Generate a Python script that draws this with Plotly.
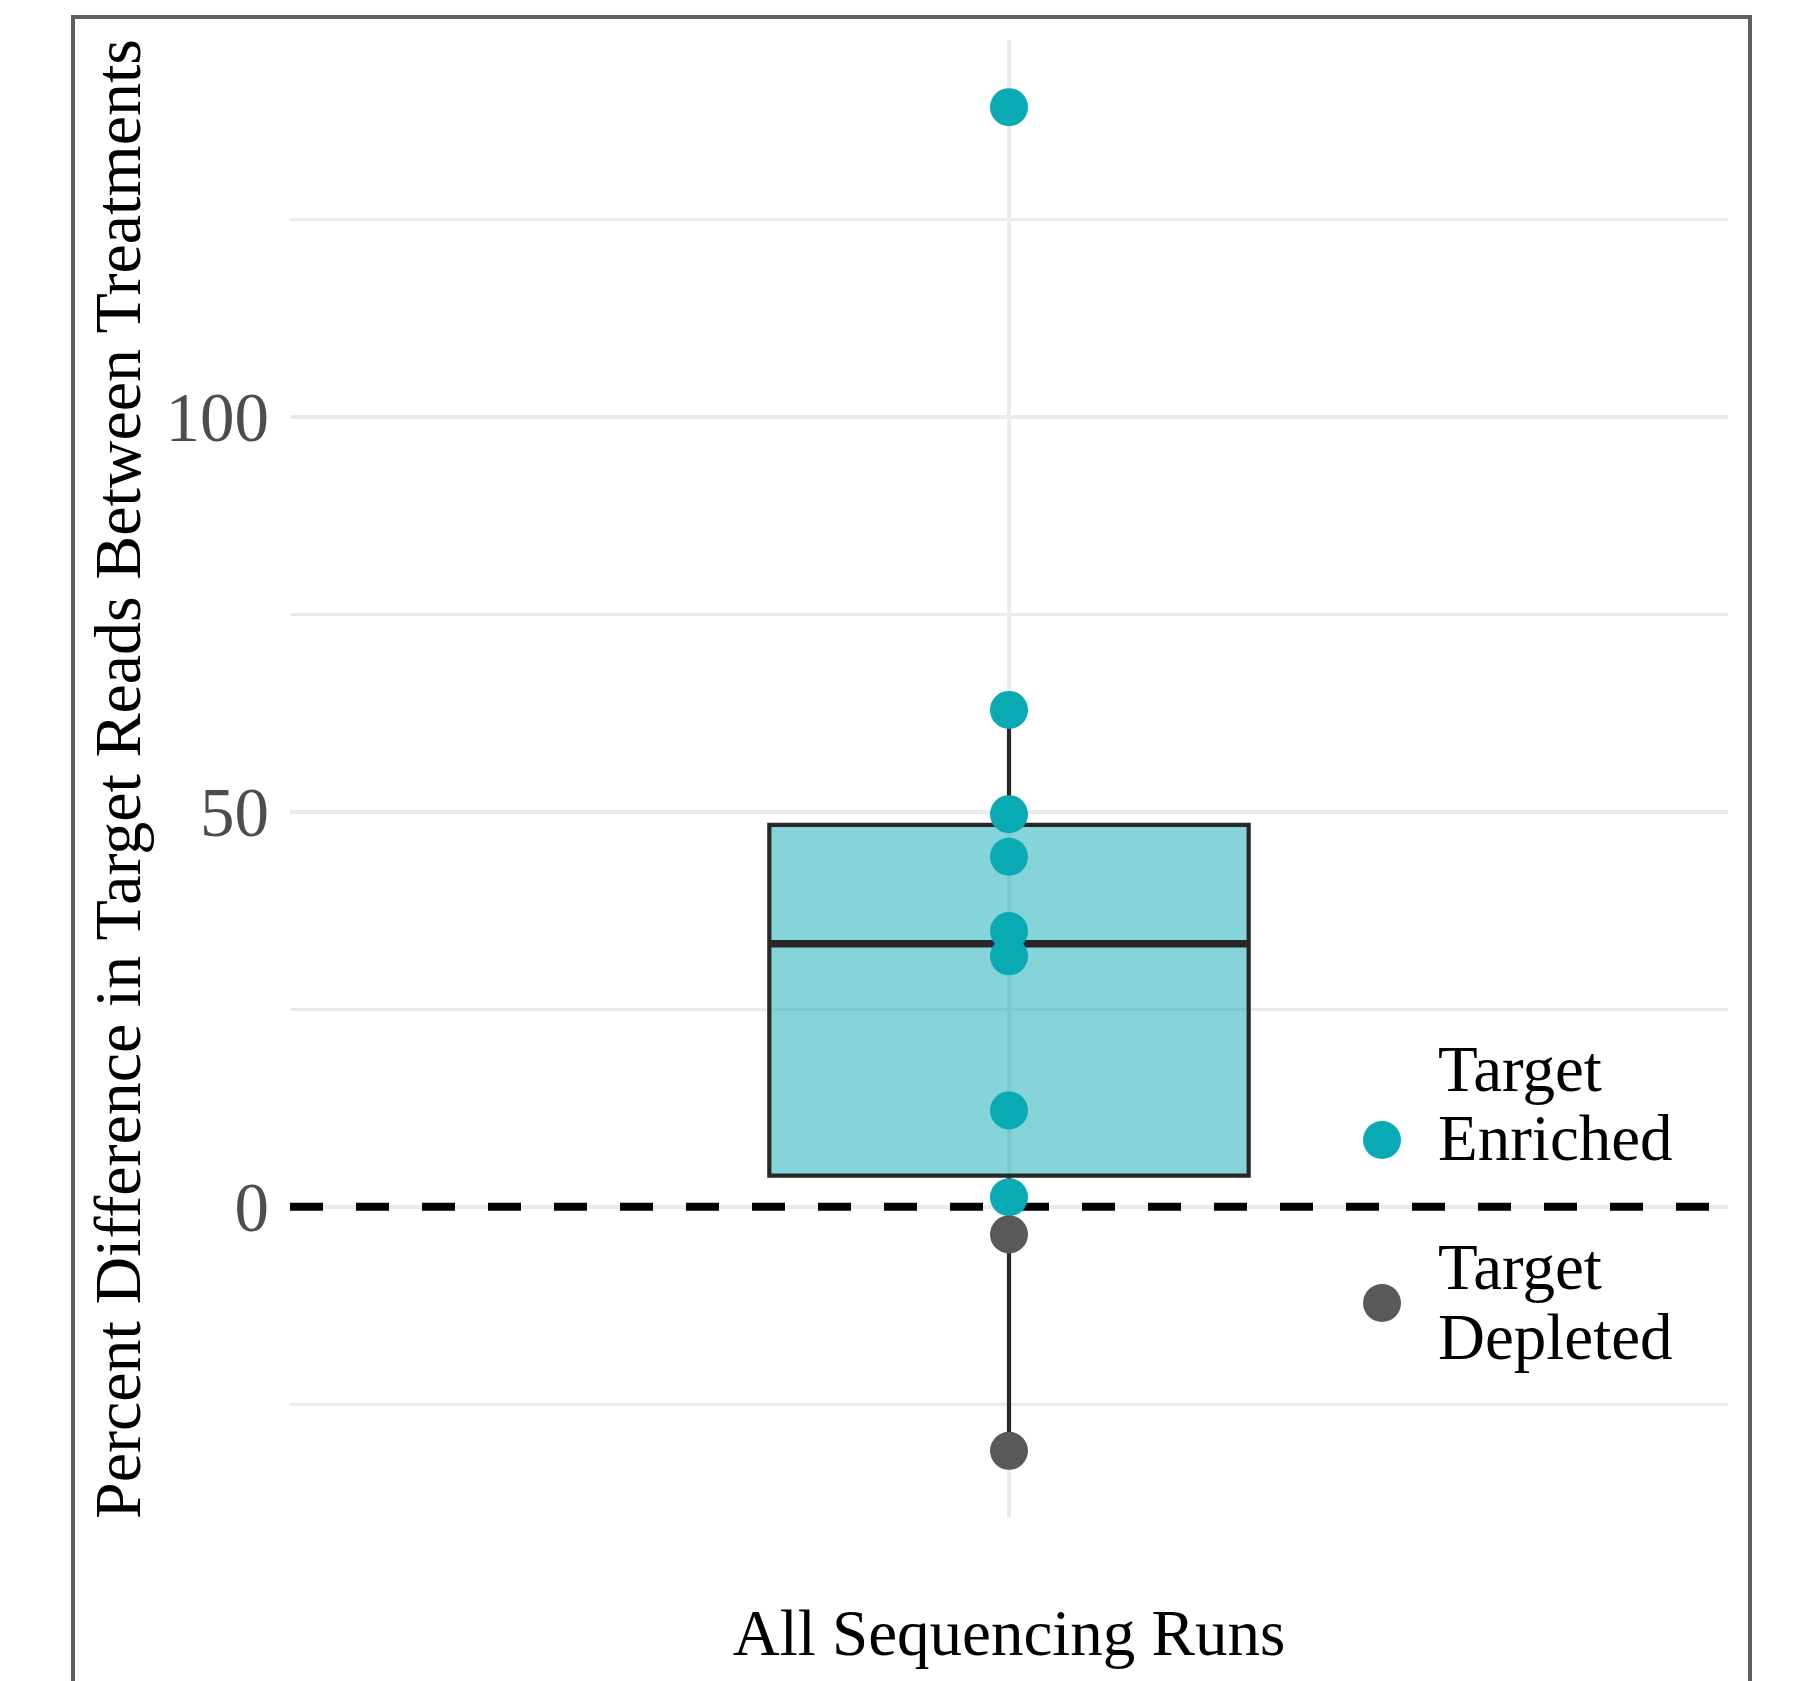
import numpy as np
import plotly.graph_objects as go

# ---- data ----
category = "All Sequencing Runs"
enriched_values = [139.2, 62.9, 49.7, 44.3, 34.9, 31.7, 12.2, 1.2]
depleted_values = [-3.5, -30.9]
legend_labels = [["Target", "Enriched"], ["Target", "Depleted"]]
y_major_ticks = [0, 50, 100]
y_minor_ticks = [-25, 25, 75, 125]
reference_value = 0

TEAL = "#0AAAB5"
GREY = "#595959"
BOX_LINE = "#282828"
FONT = "Liberation Serif"
X_RANGE = [-0.6, 0.6]
BOX_WIDTH = 0.4

all_values = np.array(enriched_values + depleted_values, dtype=float)
q1, med, q3 = np.percentile(all_values, [25, 50, 75])
iqr = q3 - q1
upper_fence = all_values[all_values <= q3 + 1.5 * iqr].max()
lower_fence = all_values[all_values >= q1 - 1.5 * iqr].min()

fig = go.Figure()

# boxplot (stats computed from the data)
fig.add_trace(go.Box(
    x=[category], q1=[q1], median=[med], q3=[q3],
    lowerfence=[lower_fence], upperfence=[upper_fence],
    width=BOX_WIDTH, whiskerwidth=0,
    fillcolor="rgba(10,170,181,0.5)",
    line=dict(color=BOX_LINE, width=4.2),
    showlegend=False, hoverinfo="skip",
))
# thicker median line (ggplot draws the median at double width)
fig.add_trace(go.Box(
    x=[category], q1=[med], median=[med], q3=[med],
    lowerfence=[med], upperfence=[med],
    width=BOX_WIDTH, whiskerwidth=0,
    fillcolor="rgba(0,0,0,0)",
    line=dict(color=BOX_LINE, width=7.5),
    showlegend=False, hoverinfo="skip",
))

fig.add_trace(go.Scatter(
    x=[category] * len(enriched_values), y=enriched_values,
    mode="markers", name="Target Enriched",
    marker=dict(color=TEAL, size=38, line=dict(width=0)),
    showlegend=False,
))
fig.add_trace(go.Scatter(
    x=[category] * len(depleted_values), y=depleted_values,
    mode="markers", name="Target Depleted",
    marker=dict(color=GREY, size=38, line=dict(width=0)),
    showlegend=False,
))

# dashed reference line at 0 (between gridlines and traces)
fig.add_shape(type="line", xref="x", yref="y", x0=X_RANGE[0], x1=X_RANGE[1],
              y0=reference_value, y1=reference_value,
              line=dict(color="black", width=8, dash="33px,33px"), layer="between")

# outer border (plot background frame)
fig.add_shape(type="rect", xref="paper", yref="paper",
              x0=-0.1509, x1=1.0153, y0=-0.3, y1=1.0156,
              line=dict(color="#5f5f5f", width=4), fillcolor="rgba(0,0,0,0)", layer="above")

# custom legend with large keys
key_x = 0.7594
text_x = 0.7969
key_y = [(1518 - 1140) / 1478, (1518 - 1303) / 1478]
line_y = [[(1518 - 1069) / 1478, (1518 - 1138) / 1478],
          [(1518 - 1267) / 1478, (1518 - 1337) / 1478]]
for color, ky, labels, ly in zip([TEAL, GREY], key_y, legend_labels, line_y):
    fig.add_shape(type="circle", xref="paper", yref="paper",
                  xsizemode="pixel", ysizemode="pixel",
                  xanchor=key_x, yanchor=ky, x0=-19, x1=19, y0=-19, y1=19,
                  fillcolor=color, line=dict(width=0), layer="above")
    for lab, yy in zip(labels, ly):
        fig.add_annotation(text=lab, xref="paper", yref="paper", x=text_x, y=yy,
                           xanchor="left", yanchor="middle", showarrow=False,
                           font=dict(family=FONT, size=65, color="black"))

fig.update_layout(
    width=1797, height=1681,
    margin=dict(l=290, r=69, t=40, b=163, autoexpand=False),
    paper_bgcolor="white", plot_bgcolor="white",
    font=dict(family=FONT, color="black"),
    showlegend=False, boxmode="overlay",
)
fig.update_xaxes(
    type="category", range=X_RANGE,
    showgrid=True, gridcolor="#EBEBEB", gridwidth=4,
    zeroline=False, showline=False, ticks="",
    tickfont=dict(family=FONT, size=65, color="black"),
    ticklabelstandoff=71,
)
fig.update_yaxes(
    range=[-39.4, 147.7], tickvals=y_major_ticks,
    showgrid=True, gridcolor="#EBEBEB", gridwidth=4,
    zeroline=False, showline=False, ticks="",
    tickfont=dict(family=FONT, size=69, color="#4D4D4D"),
    ticklabelstandoff=20,
    minor=dict(tickvals=y_minor_ticks, showgrid=True, gridcolor="#EBEBEB", gridwidth=2.5, ticks=""),
    title=dict(text="Percent Difference in Target Reads Between Treatments",
               font=dict(family=FONT, size=66, color="black"), standoff=3),
)

fig.write_html("out.html")
